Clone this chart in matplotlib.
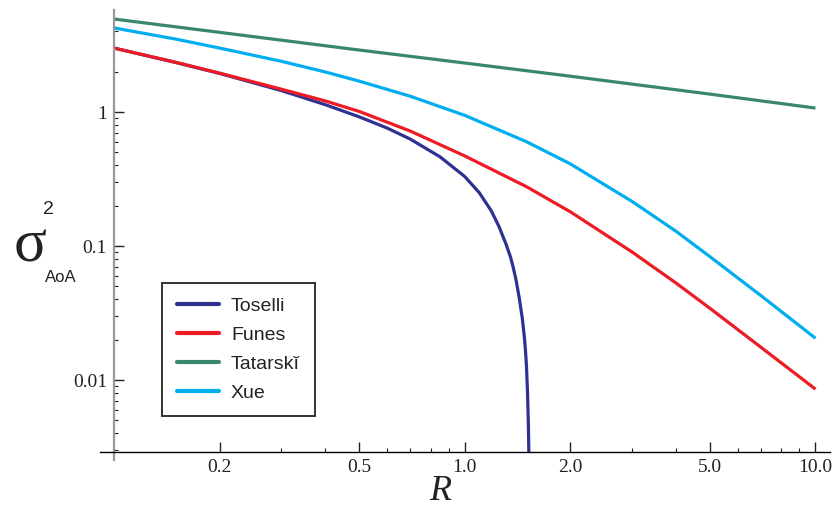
import matplotlib.pyplot as plt
import matplotlib.ticker as mticker

# values (R, sigma^2_AoA)
r_toselli = [0.1, 0.15, 0.2, 0.3, 0.4, 0.5, 0.6, 0.7, 0.85, 1.0, 1.1, 1.19, 1.25, 1.31, 1.35, 1.375,
             1.40, 1.43, 1.46, 1.48, 1.49, 1.50, 1.51, 1.518, 1.523]
v_toselli = [3.0, 2.34, 1.94, 1.445, 1.135, 0.92, 0.76, 0.627, 0.463, 0.33, 0.25, 0.183, 0.141, 0.104, 0.083, 0.069,
             0.056, 0.041, 0.0285, 0.0205, 0.0165, 0.0125, 0.0080, 0.0048, 0.0029]

r_funes = [0.1, 0.15, 0.2, 0.3, 0.4, 0.5, 0.7, 1.0, 1.5, 2.0, 3.0, 4.0, 5.0, 7.0, 10.0]
v_funes = [3.0, 2.35, 1.95, 1.48, 1.21, 1.01, 0.72, 0.47, 0.277, 0.18, 0.0902, 0.053, 0.0343, 0.0175, 0.00855]

r_tatarski = [0.1, 0.2, 0.5, 1.0, 2.0, 5.0, 10.0]
v_tatarski = [4.94, 3.93, 2.90, 2.32, 1.85, 1.36, 1.07]

r_xue = [0.1, 0.15, 0.2, 0.3, 0.4, 0.5, 0.7, 1.0, 1.5, 2.0, 3.0, 4.0, 5.0, 7.0, 10.0]
v_xue = [4.24, 3.50, 3.0, 2.39, 1.99, 1.70, 1.31, 0.944, 0.60, 0.41, 0.215, 0.129, 0.0833, 0.0425, 0.0205]

names = ["Toselli", "Funes", "Tatarsk\u012d", "Xue"]
colores = ["#2E3192", "#ED1C24", "#3A8771", "#00AEEF"]

fig = plt.figure(figsize=(8.35, 5.26), dpi=100)
ax = fig.add_axes([100/835, 1-460/526, 730/835, 450/526])

series = [(r_toselli, v_toselli), (r_funes, v_funes), (r_tatarski, v_tatarski), (r_xue, v_xue)]
for (r, v), n, c in zip(series, names, colores):
    ax.plot(r, v, color=c, lw=2.3, label=n, solid_capstyle='butt', solid_joinstyle='round')

ax.set_xscale('log')
ax.set_yscale('log')
ax.set_xlim(0.0912, 11.0)
ax.set_ylim(0.00253, 5.77)

# ejes cruzados tipo Mathematica
ax.spines['right'].set_visible(False)
ax.spines['top'].set_visible(False)
ax.spines['left'].set_position(('data', 0.1))
ax.spines['bottom'].set_position(('data', 0.0029))
ax.spines['left'].set_color('#999999')
ax.spines['left'].set_linewidth(1.6)
ax.spines['bottom'].set_linewidth(1.0)

ax.xaxis.set_major_locator(mticker.FixedLocator([0.2, 0.5, 1.0, 2.0, 5.0, 10.0]))
ax.xaxis.set_major_formatter(mticker.FixedFormatter(["0.2", "0.5", "1.0", "2.0", "5.0", "10.0"]))
ax.xaxis.set_minor_locator(mticker.FixedLocator([0.1, 0.3, 0.4, 0.6, 0.7, 0.8, 0.9, 3, 4, 6, 7, 8, 9]))
ax.xaxis.set_minor_formatter(mticker.NullFormatter())

ax.yaxis.set_major_locator(mticker.FixedLocator([0.01, 0.1, 1.0]))
ax.yaxis.set_major_formatter(mticker.FixedFormatter(["0.01", "0.1", "1"]))
ax.yaxis.set_minor_locator(mticker.LogLocator(base=10, subs=range(2, 10)))
ax.yaxis.set_minor_formatter(mticker.NullFormatter())

ax.tick_params(which='major', direction='in', length=7, width=1.0, color='#222222',
               labelsize=14, pad=5)
ax.tick_params(which='minor', direction='in', length=3, width=0.8, color='#222222')
for lab in ax.get_xticklabels() + ax.get_yticklabels():
    lab.set_family('Liberation Serif')
    lab.set_color('#222222')

# etiquetas de ejes
fig.text(440/835, 1-491/526, "R", fontsize=26, style='italic', family='Liberation Serif',
         ha='center', va='center', color='#222222')
fig.text(30/835, 1-247/526, "\u03c3", fontsize=44, family='Liberation Serif',
         ha='center', va='center', color='#222222')
fig.text(48/835, 1-209/526, "2", fontsize=14, family='Liberation Sans',
         ha='center', va='center', color='#222222')
fig.text(61/835, 1-278/526, "AoA", fontsize=12, family='Liberation Sans',
         ha='center', va='center', color='#222222')

leg = ax.legend(loc='upper left', bbox_to_anchor=(62/730, (460-283)/450), borderaxespad=0,
                frameon=True, fancybox=False, edgecolor='black', handlelength=2.2,
                handletextpad=0.6, labelspacing=0.58, borderpad=0.75,
                prop={'family': 'Liberation Sans', 'size': 14})
leg.get_frame().set_linewidth(1.4)
for t in leg.get_texts():
    t.set_color('#222222')
for h in leg.get_lines():
    h.set_linewidth(3.0)
    h.set_solid_capstyle('round')

fig.savefig("out.png", dpi=100)
